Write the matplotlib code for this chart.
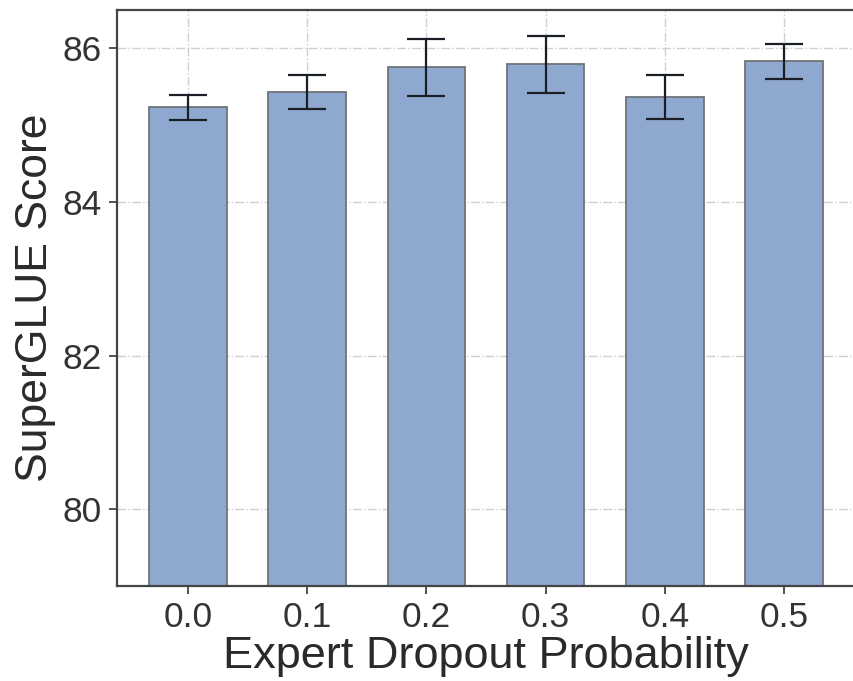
import matplotlib
matplotlib.use("Agg")
import matplotlib.pyplot as plt

plt.rcParams['font.family'] = ['Liberation Sans', 'DejaVu Sans']

# Data
probs = ["0.0", "0.1", "0.2", "0.3", "0.4", "0.5"]
scores = [85.23, 85.43, 85.75, 85.79, 85.37, 85.83]
errs = [0.165, 0.22, 0.375, 0.37, 0.285, 0.23]

fig = plt.figure(figsize=(8.54, 6.81), dpi=100)
ax = fig.add_axes([0.137, 0.1395, 0.865, 0.846])

x = list(range(len(probs)))
ax.bar(x, scores, width=0.65, color='#8fa8cf', edgecolor='#6f7378', linewidth=1.3,
       yerr=errs, capsize=14, error_kw=dict(ecolor='#1a1f26', elinewidth=1.6, capthick=1.6),
       zorder=2)

ax.set_xlim(-0.595, 5.6)
ax.set_ylim(79, 86.5)
ax.set_yticks([80, 82, 84, 86])
ax.set_xticks(x)
ax.set_xticklabels(probs)

ax.grid(True, linestyle='-.', color='#d0d0d0', linewidth=1.0, zorder=0)
ax.set_axisbelow(True)

for s in ax.spines.values():
    s.set_color('#444444')
    s.set_linewidth(1.6)

ax.tick_params(axis='both', labelsize=25.5, color='#444444', labelcolor='#333333',
               length=6, width=1.3, pad=5)
ax.set_xlabel("Expert Dropout Probability", fontsize=32.5, color='#2a2a2a', labelpad=1)
ax.set_ylabel("SuperGLUE Score", fontsize=32, color='#2a2a2a', labelpad=5)

fig.savefig("out.png", dpi=100)
